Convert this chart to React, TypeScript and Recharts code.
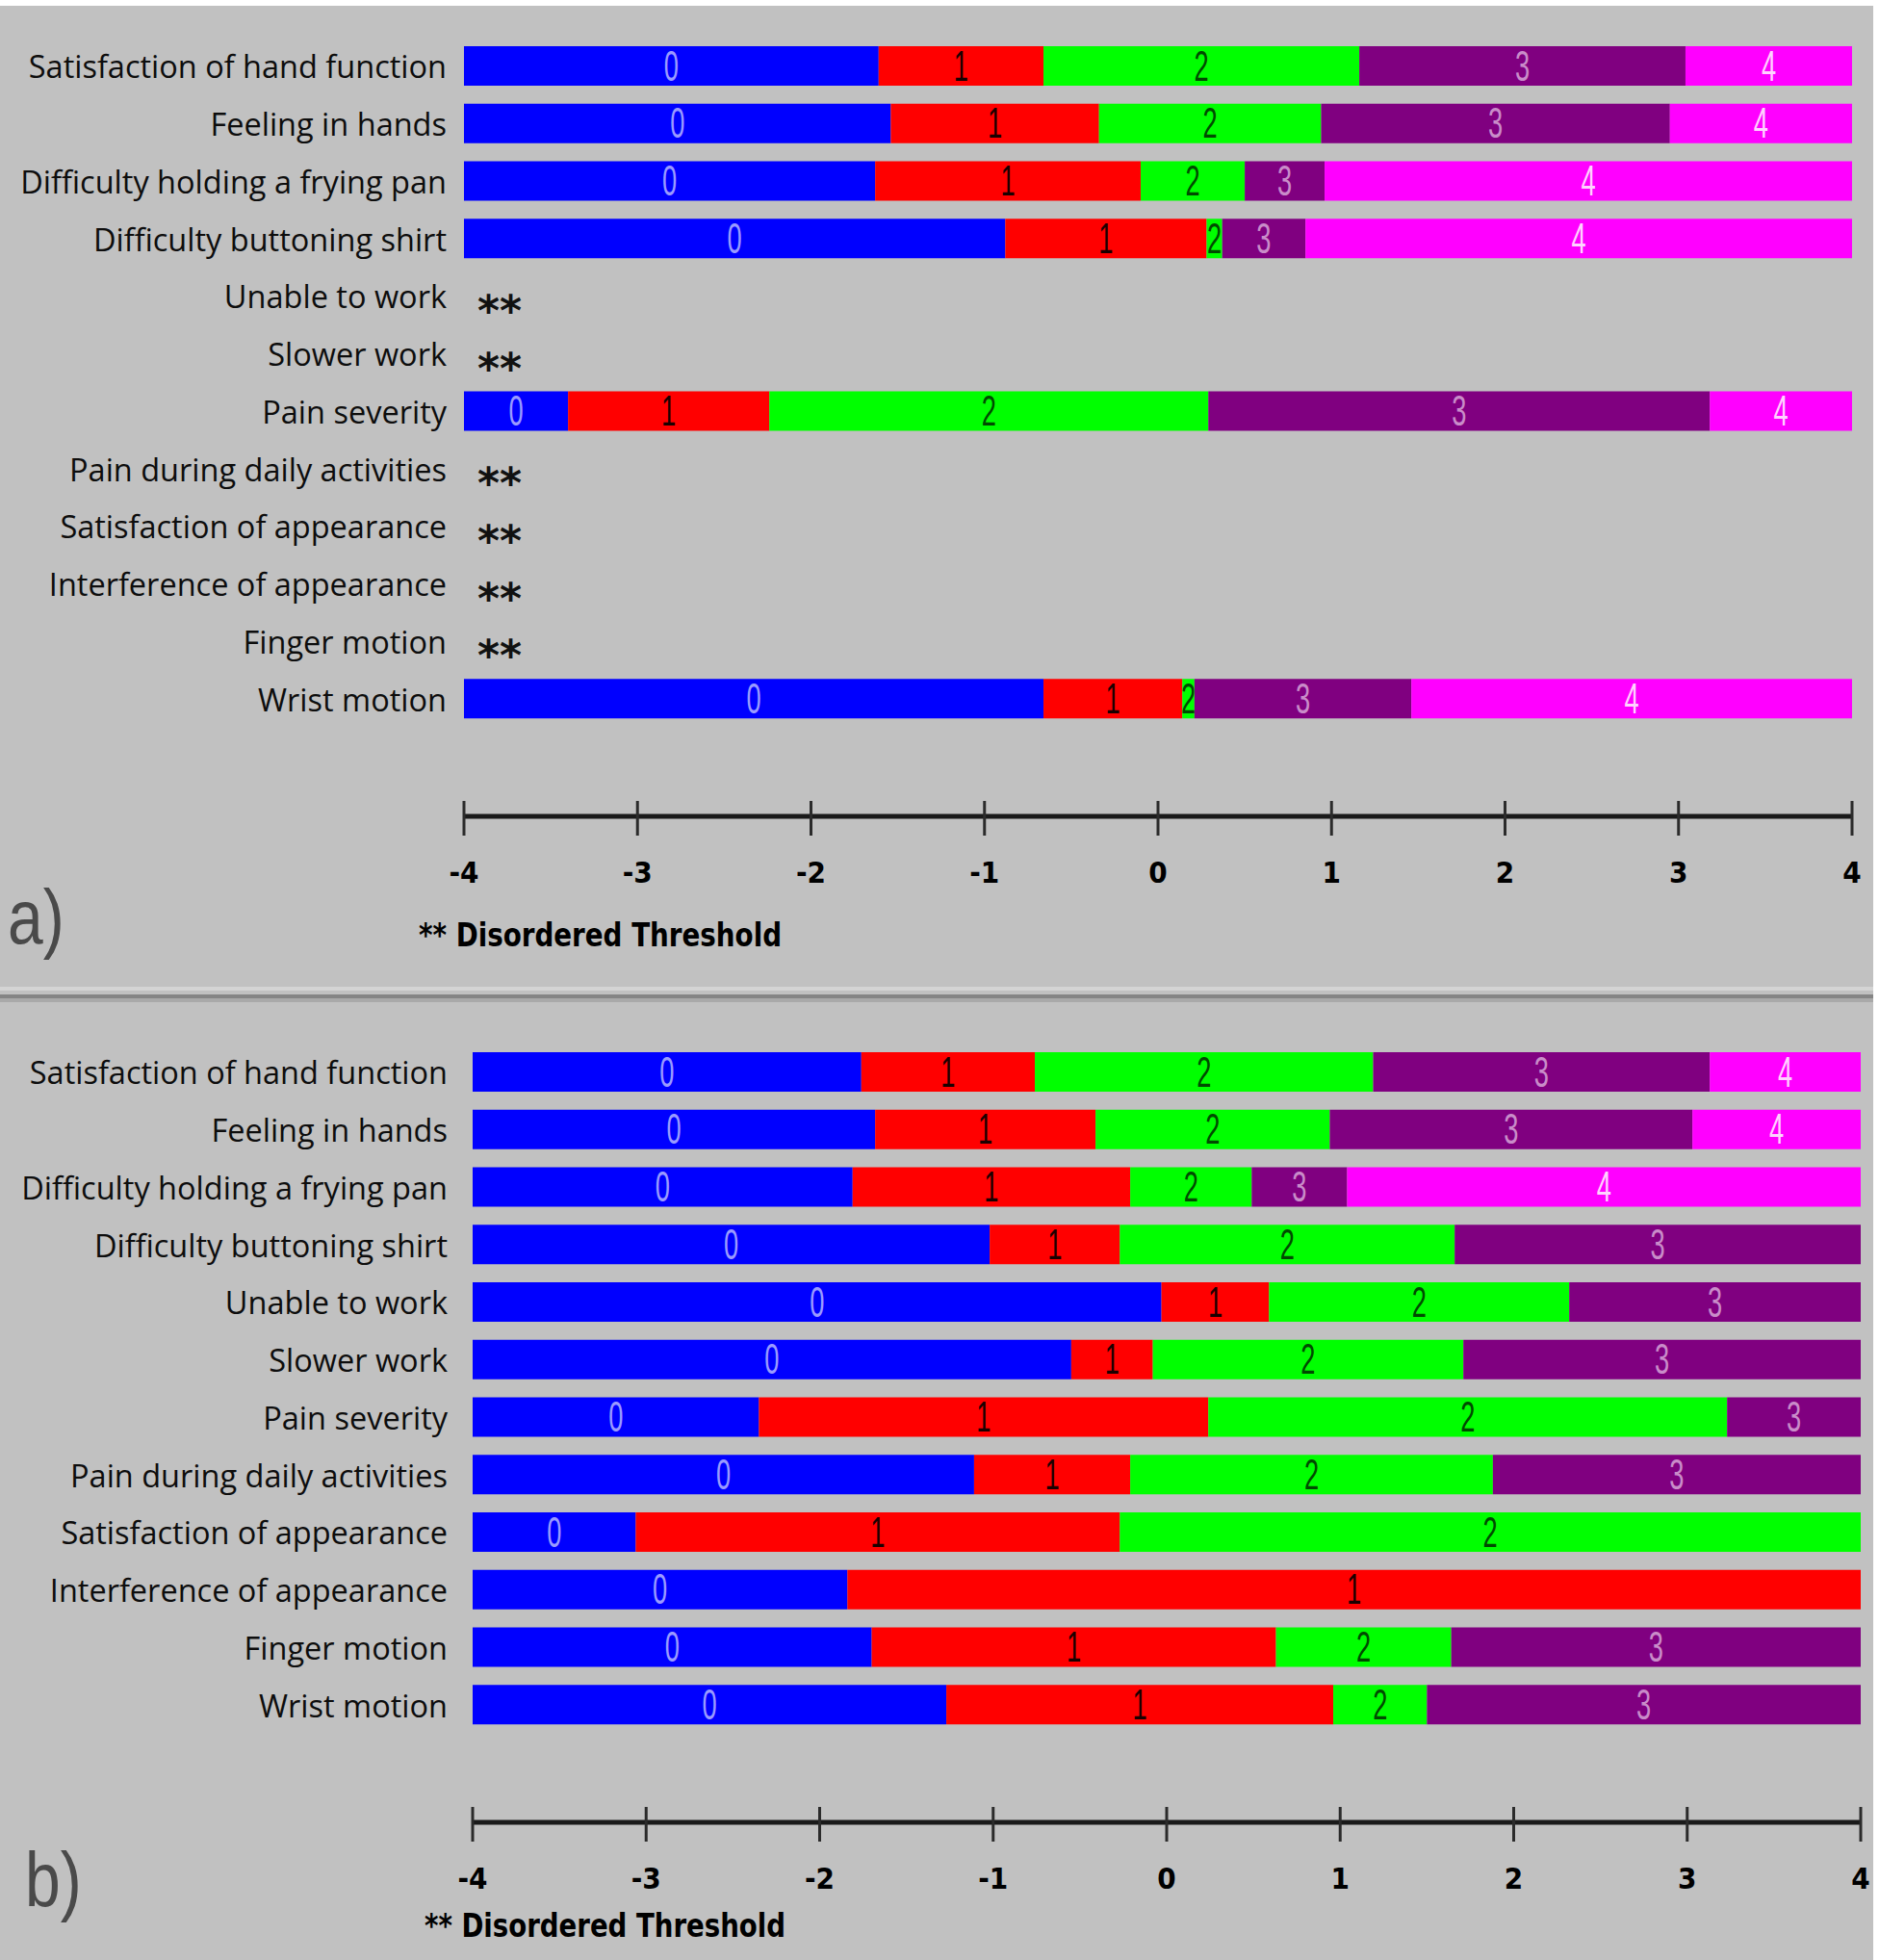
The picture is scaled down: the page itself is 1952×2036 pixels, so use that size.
import React from 'react';
import { BarChart, Bar, XAxis, YAxis } from 'recharts';

// ---------- data ----------
const ITEMS: string[] = [
  'Satisfaction of hand function',
  'Feeling in hands',
  'Difficulty holding a frying pan',
  'Difficulty buttoning shirt',
  'Unable to work',
  'Slower work',
  'Pain severity',
  'Pain during daily activities',
  'Satisfaction of appearance',
  'Interference of appearance',
  'Finger motion',
  'Wrist motion',
];

// Threshold locations (logits) per item; null = disordered thresholds
const THRESHOLDS_A: (number[] | null)[] = [
  [-1.61, -0.66, 1.16, 3.04],
  [-1.54, -0.34, 0.94, 2.95],
  [-1.63, -0.1, 0.5, 0.96],
  [-0.88, 0.28, 0.37, 0.85],
  null,
  null,
  [-3.4, -2.24, 0.29, 3.18],
  null,
  null,
  null,
  null,
  [-0.66, 0.14, 0.21, 1.46],
];

const THRESHOLDS_B: (number[] | null)[] = [
  [-1.76, -0.76, 1.19, 3.13],
  [-1.68, -0.41, 0.94, 3.03],
  [-1.81, -0.21, 0.49, 1.04],
  [-1.02, -0.27, 1.66],
  [-0.03, 0.59, 2.32],
  [-0.55, -0.08, 1.71],
  [-2.35, 0.24, 3.23],
  [-1.11, -0.21, 1.88],
  [-3.06, -0.27],
  [-1.84],
  [-1.7, 0.63, 1.64],
  [-1.27, 0.96, 1.5],
];

const CATEGORY_LABELS: string[] = ['0', '1', '2', '3', '4'];
const CATEGORY_COLORS: string[] = ['#0000ff', '#ff0000', '#00ff00', '#800080', '#ff00ff'];
const CATEGORY_TEXT: string[] = ['#9a9aff', '#1a0000', '#004a00', '#c98cc9', '#ffd2ff'];
const AXIS_MIN = -4;
const AXIS_MAX = 4;
const AXIS_TICKS: number[] = [-4, -3, -2, -1, 0, 1, 2, 3, 4];
const FOOTNOTE = '** Disordered Threshold';
const DISORDERED_MARK = '**';
const PANEL_TAGS: string[] = ['a)', 'b)'];

// ---------- helpers ----------
type Row = { name: string; disordered: boolean; [k: string]: any };

function buildRows(thresholds: (number[] | null)[]): Row[] {
  return ITEMS.map((name, i) => {
    const t = thresholds[i];
    const row: Row = { name, disordered: t === null };
    for (let k = 0; k < CATEGORY_LABELS.length; k++) {
      if (t && k <= t.length) {
        const lo = k === 0 ? AXIS_MIN : t[k - 1];
        const hi = k === t.length ? AXIS_MAX : t[k];
        row['seg' + k] = [lo, hi];
      } else {
        row['seg' + k] = null;
      }
    }
    return row;
  });
}

const LABEL_FONT = "'Open Sans', 'DejaVu Sans', sans-serif";
const BOLD_COND = "'DejaVu Sans Condensed', 'DejaVu Sans', sans-serif";

const makeShape = (k: number, panel: string) => (props: any) => {
  const { x, y, width, height, index } = props;
  if (!width || width <= 0 || !height || isNaN(x)) return <g />;
  const id = `clip-${panel}-${k}-${index}`;
  const cx = x + width / 2;
  const cy = y + height / 2;
  return (
    <g>
      <defs>
        <clipPath id={id}>
          <rect x={x} y={y} width={width} height={height} />
        </clipPath>
      </defs>
      <rect x={x} y={y} width={width} height={height} fill={CATEGORY_COLORS[k]} />
      <g clipPath={`url(#${id})`}>
        <text
          transform={`translate(${cx},${cy}) scale(0.62,1)`}
          textAnchor="middle"
          dominantBaseline="central"
          fontFamily="'Liberation Sans', Arial, sans-serif"
          fontSize={44}
          fill={CATEGORY_TEXT[k]}
        >
          {CATEGORY_LABELS[k]}
        </text>
      </g>
    </g>
  );
};

const XTick = (props: any) => {
  const { x, y, payload } = props;
  return (
    <g>
      <line x1={x} x2={x} y1={y - 16} y2={y + 20} stroke="#2b2b2b" strokeWidth={3} />
      <text
        x={x}
        y={y + 58}
        textAnchor="middle"
        dominantBaseline="central"
        fontFamily={BOLD_COND}
        fontStretch="condensed"
        fontWeight="bold"
        fontSize={31}
        fill="#000"
      >
        {payload.value}
      </text>
    </g>
  );
};

const makeYTick = (rows: Row[], plotLeft: number) => (props: any) => {
  const { x, y, payload } = props;
  const row = rows.find((r) => r.name === payload.value);
  return (
    <g>
      <text
        x={x}
        y={y}
        textAnchor="end"
        dominantBaseline="central"
        fontFamily={LABEL_FONT}
        fontSize={32.5}
        fill="#0d0d0d"
      >
        {payload.value}
      </text>
      {row && row.disordered ? (
        <text
          x={plotLeft + 14}
          y={y + 30}
          textAnchor="start"
          fontFamily="'DejaVu Sans', sans-serif"
          fontWeight="bold"
          fontSize={44}
          fill="#111"
        >
          {DISORDERED_MARK}
        </text>
      ) : null}
    </g>
  );
};

type PanelProps = {
  thresholds: (number[] | null)[];
  panel: string;
  top: number;
  height: number;
  plotLeft: number;
  plotRight: number;
  labelGap: number;
};

const W = 1952;
const PAD_BOTTOM = 92;
const BAR_SIZE = 41;

function Panel({ thresholds, panel, top, height, plotLeft, plotRight, labelGap }: PanelProps) {
  const rows = buildRows(thresholds);
  const xAxisH = 100;
  const marginTop = 39;
  const plotBottom = 848;
  const marginBottom = height - plotBottom - xAxisH;
  return (
    <div style={{ position: 'absolute', left: 0, top, width: W, height }}>
      <BarChart
        width={W}
        height={height}
        data={rows}
        layout="vertical"
        margin={{ top: marginTop, right: W - plotRight, bottom: marginBottom, left: 0 }}
      >
        <XAxis
          type="number"
          domain={[AXIS_MIN, AXIS_MAX]}
          ticks={AXIS_TICKS}
          interval={0}
          height={xAxisH}
          tickSize={0}
          tickMargin={0}
          tickLine={false}
          axisLine={{ stroke: '#1a1a1a', strokeWidth: 5 }}
          tick={<XTick />}
          allowDataOverflow
        />
        {CATEGORY_LABELS.map((_, k) => (
          <YAxis
            key={'y' + k}
            yAxisId={'y' + k}
            type="category"
            dataKey="name"
            width={k === 0 ? plotLeft : 0}
            hide={k !== 0}
            padding={{ top: 0, bottom: PAD_BOTTOM }}
            interval={0}
            tickLine={false}
            axisLine={false}
            tickSize={0}
            tickMargin={labelGap}
            tick={k === 0 ? makeYTick(rows, plotLeft) : false}
          />
        ))}
        {CATEGORY_LABELS.map((_, k) => (
          <Bar
            key={'b' + k}
            yAxisId={'y' + k}
            dataKey={'seg' + k}
            barSize={BAR_SIZE}
            fill={CATEGORY_COLORS[k]}
            isAnimationActive={false}
            shape={makeShape(k, panel)}
          />
        ))}
      </BarChart>
    </div>
  );
}

export default function App() {
  return (
    <div style={{ position: 'absolute', left: 0, top: 0, width: W, height: 2036, background: '#ffffff', overflow: 'hidden' }}>
      <div style={{ position: 'absolute', left: 0, top: 6, width: 1946, height: 2030, background: '#c1c1c1' }} />
      <div style={{ position: 'absolute', left: 0, top: 1025, width: 1946, height: 4, background: '#d4d4d4' }} />
      <div style={{ position: 'absolute', left: 0, top: 1033, width: 1946, height: 4, background: '#858585' }} />
      <div style={{ position: 'absolute', left: 0, top: 1037, width: 1946, height: 4, background: '#a9a9a9' }} />
      <Panel thresholds={THRESHOLDS_A} panel="a" top={0} height={1000} plotLeft={482} plotRight={1924} labelGap={18} />
      <Panel thresholds={THRESHOLDS_B} panel="b" top={1045} height={991} plotLeft={491} plotRight={1933} labelGap={26} />
      <svg width={W} height={2036} style={{ position: 'absolute', left: 0, top: 0, pointerEvents: 'none' }}>
        <text x={8} y={980} fontFamily="'Liberation Sans Narrow', 'Liberation Sans', sans-serif" fontSize={66} fill="#4a4a4a" transform="translate(0,-196) scale(1,1.2)">
          {PANEL_TAGS[0]}
        </text>
        <text x={26} y={1980} fontFamily="'Liberation Sans Narrow', 'Liberation Sans', sans-serif" fontSize={66} fill="#4a4a4a" transform="translate(0,-396) scale(1,1.2)">
          {PANEL_TAGS[1]}
        </text>
        <text x={435} y={971} dominantBaseline="central" fontFamily={BOLD_COND} fontStretch="condensed" fontWeight="bold" fontSize={33} fill="#000" textLength={377} lengthAdjust="spacingAndGlyphs">
          {FOOTNOTE}
        </text>
        <text x={441} y={2000} dominantBaseline="central" fontFamily={BOLD_COND} fontStretch="condensed" fontWeight="bold" fontSize={33} fill="#000" textLength={375} lengthAdjust="spacingAndGlyphs">
          {FOOTNOTE}
        </text>
      </svg>
    </div>
  );
}
